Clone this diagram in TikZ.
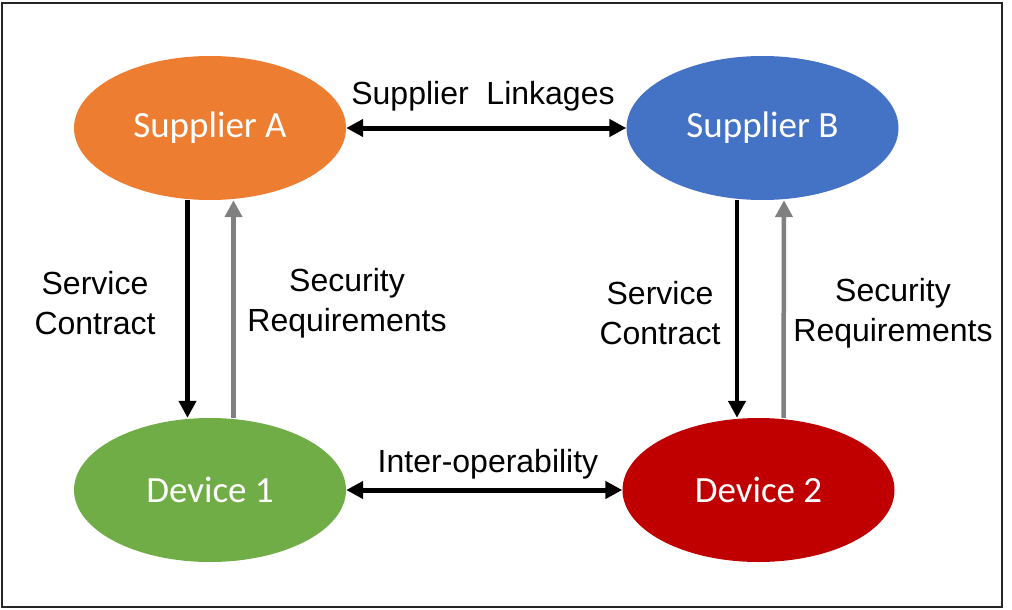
\documentclass[tikz,border=0pt]{standalone}
\usepackage{fontspec}
\setmainfont{Liberation Sans}
\newfontfamily\calib{Carlito}
\usetikzlibrary{shapes.geometric,arrows.meta}
\definecolor{cOrange}{HTML}{ED7D31}
\definecolor{cBlue}{HTML}{4472C4}
\definecolor{cGreen}{HTML}{70AD47}
\definecolor{cRed}{HTML}{C00000}
\definecolor{cGray}{HTML}{808080}
\tikzset{
  ent/.style={ellipse, inner sep=0pt, minimum width=272pt, minimum height=144pt,
    text=white, font=\calib\fontsize{37}{44}\selectfont},
  lbl/.style={inner sep=0pt, align=center, font=\fontsize{32}{40}\selectfont},
  blkarrow/.style={line width=4.5pt, draw=black, -{Triangle[length=17pt,width=17pt]}},
  grayarrow/.style={line width=4.5pt, draw=cGray, -{Triangle[length=17pt,width=17pt]}},
  dblarrow/.style={line width=5pt, draw=black, {Triangle[length=17pt,width=17pt]}-{Triangle[length=17pt,width=17pt]}}
}
\begin{document}
\begin{tikzpicture}[x=1pt,y=-1pt]
\useasboundingbox (0,0) rectangle (1012,610);
\draw[line width=2pt, draw=black!85] (2,3) rectangle (1002,607);

\node[ent, fill=cOrange] (SA) at (210,128) {Supplier A};
\node[ent, fill=cBlue]   (SB) at (762.5,128) {Supplier B};
\node[ent, fill=cGreen]  (D1) at (210,490) {Device 1};
\node[ent, fill=cRed]    (D2) at (758.5,490) {Device 2};

\draw[dblarrow] (SA.east) -- (SB.west);
\draw[dblarrow] (D1.east) -- (D2.west);

\draw[blkarrow] ([xshift=-22.5pt]SA.south) -- ([xshift=-22.5pt]D1.north);
\draw[grayarrow] ([xshift=23.5pt]D1.north) -- ([xshift=23.5pt]SA.south);
\draw[blkarrow] ([xshift=-25.5pt]SB.south) -- ([xshift=-21.5pt]D2.north);
\draw[grayarrow] ([xshift=25pt]D2.north) -- ([xshift=21.5pt]SB.south);

\node[lbl] (t1) at (483,96) {Supplier\ \ Linkages};
\node[lbl] (t2) at (488,464) {Inter-operability};
\node[lbl] (t3) at (95,303) {Service\\Contract};
\node[lbl] (t4) at (347,303) {Security\\Requirements};
\node[lbl] (t5) at (660,313) {Service\\Contract};
\node[lbl] (t6) at (893,313) {Security\\Requirements};
\end{tikzpicture}
\end{document}
